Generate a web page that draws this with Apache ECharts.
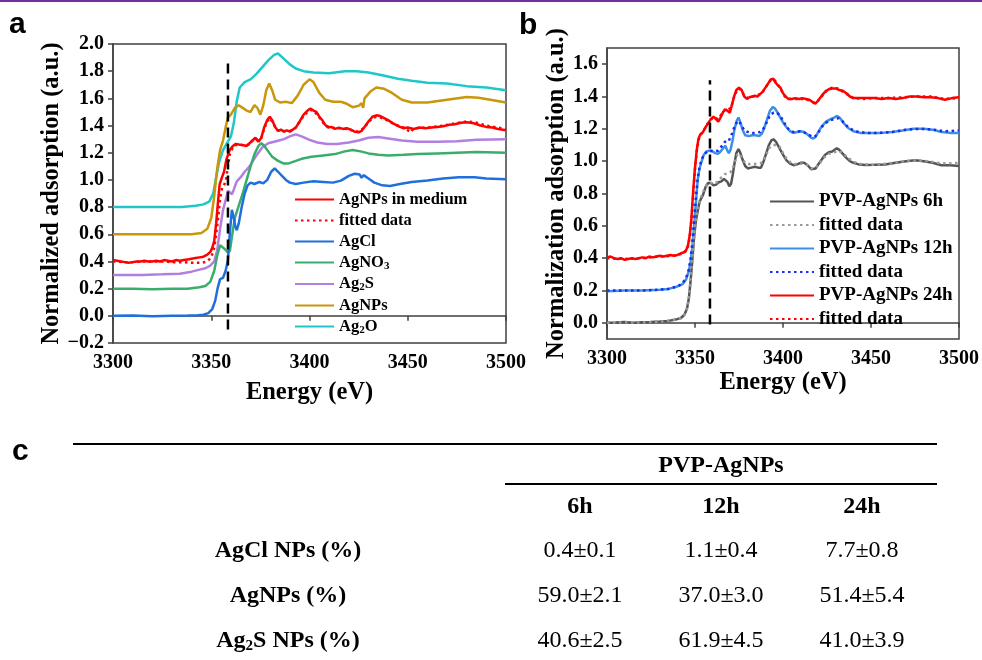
<!DOCTYPE html>
<html><head><meta charset="utf-8">
<script src="https://cdn.jsdelivr.net/npm/echarts@6/dist/echarts.min.js"></script>
<style>html,body{margin:0;padding:0;background:#fff}#c{width:982px;height:660px}</style>
</head><body><div id="c"></div>
<script>
// ---------------- Panel a data: [energy eV, normalized absorption] ----------------
const agCl = [[3300,0.00],[3310,0.002],[3320,-0.003],[3330,0.00],[3338,0.002],[3343,0.005],[3346,0.008],[3348.5,0.02],[3350.5,0.05],[3352,0.11],[3353.2,0.20],[3354.5,0.27],[3356,0.28],[3357.3,0.33],[3358.5,0.41],[3359.5,0.62],[3360.5,0.78],[3361.5,0.72],[3362.2,0.66],[3363,0.63],[3364,0.68],[3365.5,0.80],[3367,0.90],[3368.5,0.96],[3370,0.98],[3372,0.97],[3374.5,0.985],[3376.5,0.975],[3378.5,1.00],[3380.5,1.06],[3382.3,1.085],[3384,1.06],[3386,1.03],[3388,1.00],[3390,0.98],[3393,0.97],[3397,0.98],[3402,0.99],[3407,0.985],[3412,0.98],[3416,0.995],[3420,1.03],[3423,1.045],[3425.5,1.04],[3426.5,1.015],[3427.5,1.035],[3430,1.01],[3433,0.98],[3437,0.96],[3441,0.955],[3446,0.97],[3452,0.985],[3460,0.995],[3468,1.01],[3476,1.02],[3484,1.02],[3490,1.01],[3500,1.005]];
const agNO3 = [[3300,0.20],[3310,0.20],[3320,0.195],[3330,0.20],[3338,0.20],[3344,0.21],[3347,0.22],[3349.5,0.25],[3351.5,0.33],[3353,0.44],[3354.5,0.52],[3355.5,0.53],[3357,0.49],[3358.5,0.465],[3359.5,0.48],[3360.5,0.58],[3362,0.72],[3364,0.81],[3366,0.90],[3368,1.00],[3370,1.10],[3372,1.19],[3374,1.25],[3375.5,1.27],[3377,1.25],[3379,1.21],[3381,1.17],[3384,1.14],[3387,1.12],[3389,1.12],[3392,1.135],[3396,1.155],[3401,1.17],[3407,1.18],[3413,1.19],[3418,1.21],[3422,1.22],[3426,1.21],[3430,1.195],[3435,1.185],[3440,1.18],[3448,1.185],[3455,1.19],[3465,1.195],[3475,1.20],[3485,1.205],[3500,1.20]];
const ag2S = [[3300,0.30],[3315,0.30],[3325,0.305],[3334,0.31],[3340,0.325],[3344,0.34],[3347,0.35],[3349.5,0.37],[3351.5,0.40],[3353,0.48],[3354.5,0.64],[3356,0.78],[3357.5,0.86],[3358.5,0.92],[3359.5,0.91],[3360.5,0.895],[3361.5,0.93],[3363,0.99],[3365,1.02],[3367,1.06],[3369.5,1.10],[3373,1.18],[3376,1.24],[3379,1.27],[3383,1.285],[3387,1.30],[3390,1.32],[3393,1.335],[3396,1.32],[3400,1.295],[3404,1.275],[3409,1.265],[3414,1.265],[3420,1.275],[3425,1.29],[3430,1.31],[3435,1.315],[3440,1.305],[3447,1.29],[3455,1.28],[3465,1.28],[3475,1.285],[3485,1.295],[3500,1.30]];
const agNPs = [[3300,0.60],[3320,0.60],[3340,0.60],[3345,0.61],[3348,0.64],[3350,0.72],[3351.5,0.88],[3353,1.08],[3354.5,1.22],[3356,1.29],[3357.5,1.40],[3358.5,1.46],[3360,1.48],[3362,1.53],[3364,1.55],[3366,1.53],[3368,1.51],[3370,1.50],[3372,1.55],[3373.5,1.53],[3375,1.48],[3376.5,1.55],[3378,1.66],[3379.5,1.71],[3381,1.66],[3382.5,1.59],[3385,1.57],[3388,1.575],[3391,1.565],[3394,1.62],[3397,1.70],[3400,1.74],[3402,1.72],[3405,1.64],[3408,1.59],[3412,1.575],[3416,1.575],[3419,1.56],[3422,1.535],[3425,1.545],[3426.5,1.565],[3427.3,1.53],[3428,1.60],[3431,1.65],[3434,1.68],[3438,1.67],[3442,1.64],[3447,1.59],[3452,1.57],[3460,1.57],[3470,1.59],[3480,1.61],[3486,1.605],[3492,1.59],[3500,1.57]];
const ag2O = [[3300,0.80],[3320,0.80],[3335,0.80],[3342,0.81],[3346,0.82],[3349,0.84],[3351,0.90],[3352.5,1.02],[3354,1.13],[3356,1.22],[3358,1.27],[3360,1.32],[3361.5,1.42],[3363,1.58],[3364.5,1.68],[3367,1.72],[3370,1.74],[3373,1.78],[3376,1.83],[3379,1.88],[3382,1.92],[3384,1.93],[3387,1.89],[3390,1.85],[3393,1.82],[3397,1.80],[3402,1.79],[3410,1.785],[3418,1.80],[3424,1.80],[3430,1.79],[3437,1.77],[3445,1.745],[3452,1.73],[3460,1.715],[3470,1.71],[3480,1.69],[3490,1.68],[3500,1.66]];
const agMedium = [[3300,0.41],[3302,0.405],[3304,0.40],[3306,0.395],[3308,0.39],[3310,0.395],[3312,0.40],[3314,0.40],[3316,0.405],[3318,0.40],[3320,0.40],[3322,0.405],[3324,0.40],[3326,0.41],[3328,0.405],[3330,0.40],[3332,0.41],[3334,0.405],[3336,0.41],[3338,0.415],[3340,0.42],[3342,0.425],[3344,0.43],[3346,0.435],[3348,0.45],[3349.5,0.47],[3350.5,0.50],[3351.5,0.55],[3352.5,0.68],[3353.5,0.85],[3354.3,0.97],[3355.5,1.02],[3356.5,1.06],[3357.7,1.15],[3359.4,1.22],[3361,1.25],[3362.5,1.265],[3364,1.26],[3365,1.27],[3366.5,1.255],[3368,1.25],[3369.5,1.27],[3371,1.29],[3372.5,1.31],[3374,1.28],[3375.5,1.31],[3377,1.39],[3378.5,1.44],[3379.8,1.465],[3381,1.44],[3382.5,1.39],[3384,1.36],[3385.5,1.37],[3387,1.355],[3388.5,1.365],[3390,1.355],[3391.5,1.37],[3393,1.385],[3395,1.43],[3397,1.48],[3399,1.51],[3400.5,1.525],[3402,1.51],[3403.5,1.50],[3405,1.465],[3406.5,1.44],[3408,1.405],[3409.5,1.385],[3411,1.39],[3413,1.375],[3415,1.385],[3417,1.375],[3419,1.38],[3421,1.37],[3423,1.355],[3425,1.35],[3426.5,1.36],[3428,1.39],[3430,1.43],[3432,1.465],[3434,1.475],[3436,1.47],[3438,1.455],[3440,1.44],[3442,1.42],[3444,1.405],[3446,1.39],[3448,1.38],[3450,1.385],[3453,1.375],[3456,1.385],[3459,1.38],[3462,1.385],[3465,1.39],[3468,1.395],[3471,1.405],[3474,1.41],[3477,1.42],[3480,1.425],[3482,1.42],[3484,1.415],[3487,1.40],[3490,1.39],[3493,1.385],[3496,1.375],[3500,1.365]];
const agMediumFit = [[3300,0.40],[3305,0.395],[3310,0.395],[3315,0.40],[3320,0.40],[3325,0.40],[3330,0.395],[3335,0.395],[3340,0.39],[3345,0.39],[3348,0.40],[3350,0.43],[3351.5,0.50],[3352.5,0.60],[3353.5,0.72],[3354.5,0.86],[3355.5,0.94],[3356.5,0.96],[3357.5,1.00],[3358.5,1.10],[3359.5,1.19],[3361,1.24],[3363,1.26],[3365,1.26],[3367,1.25],[3369,1.26],[3371,1.29],[3372.5,1.30],[3374,1.29],[3375.5,1.31],[3377,1.38],[3378.5,1.43],[3379.8,1.455],[3381,1.43],[3382.5,1.39],[3384,1.365],[3387,1.36],[3390,1.36],[3393,1.385],[3395,1.43],[3397,1.47],[3399,1.50],[3400.5,1.515],[3402,1.505],[3404,1.48],[3406,1.44],[3408,1.40],[3411,1.385],[3415,1.38],[3419,1.375],[3423,1.36],[3425,1.355],[3428,1.385],[3430,1.425],[3432,1.455],[3434,1.465],[3436,1.46],[3440,1.435],[3444,1.405],[3448,1.385],[3451.5,1.35],[3453,1.38],[3460,1.385],[3468,1.40],[3474,1.415],[3480,1.43],[3484,1.425],[3490,1.40],[3496,1.385],[3500,1.375]];
const dashA = [[3358.5,-0.1],[3358.5,1.9]];

// ---------------- Panel b data ----------------
const pvp6h = [[3300,0.0],[3305,0.002],[3310,0.005],[3315,0.0],[3320,0.003],[3325,0.005],[3330,0.008],[3335,0.012],[3339,0.02],[3342,0.03],[3344,0.05],[3345.5,0.09],[3346.5,0.15],[3347.5,0.26],[3348.5,0.39],[3349.5,0.53],[3350.5,0.63],[3351.5,0.69],[3352.5,0.745],[3353.5,0.77],[3354.5,0.79],[3356,0.84],[3357.5,0.865],[3359,0.865],[3360.5,0.85],[3362,0.855],[3363.5,0.87],[3365,0.875],[3366.5,0.89],[3367.5,0.895],[3368.5,0.87],[3369.5,0.845],[3370.5,0.86],[3371.5,0.92],[3372.5,0.99],[3373.5,1.05],[3374.7,1.075],[3375.8,1.05],[3377,1.01],[3378.5,0.97],[3380,0.955],[3382,0.96],[3384,0.965],[3386,0.96],[3387.5,0.96],[3389,1.00],[3390.5,1.05],[3392,1.10],[3393.5,1.13],[3394.7,1.135],[3396,1.12],[3398,1.08],[3400,1.04],[3402,1.005],[3404,0.985],[3406,0.975],[3408,0.98],[3410,0.99],[3412,0.99],[3414,0.975],[3416,0.95],[3417,0.945],[3418.5,0.955],[3420,0.98],[3422,1.01],[3424,1.04],[3426,1.055],[3428,1.06],[3430.5,1.08],[3432,1.07],[3434,1.045],[3436,1.02],[3438,1.0],[3440,0.99],[3443,0.98],[3447,0.977],[3452,0.978],[3458,0.98],[3464,0.99],[3470,1.0],[3475,1.005],[3480,1.0],[3485,0.99],[3490,0.975],[3495,0.975],[3500,0.97]];
const pvp6hFit = [[3300,0.0],[3310,0.003],[3320,0.002],[3330,0.007],[3338,0.018],[3342,0.03],[3344,0.05],[3345.5,0.09],[3346.5,0.15],[3347.5,0.27],[3348.5,0.40],[3349.5,0.54],[3350.5,0.64],[3351.5,0.70],[3352.5,0.75],[3353.5,0.78],[3355,0.82],[3357,0.86],[3359,0.865],[3361,0.86],[3363,0.875],[3365,0.90],[3367,0.92],[3369,0.925],[3371,0.94],[3372.5,0.99],[3374,1.04],[3375.5,1.045],[3377,1.01],[3379,0.985],[3382,0.98],[3385,0.985],[3388,0.99],[3390,1.03],[3392,1.08],[3394,1.10],[3396,1.10],[3398,1.09],[3400,1.05],[3402,1.015],[3405,0.985],[3408,0.98],[3411,0.985],[3414,0.975],[3416,0.955],[3418,0.955],[3420,0.975],[3423,1.02],[3426,1.045],[3429,1.055],[3431.5,1.065],[3434,1.05],[3437,1.02],[3440,0.995],[3445,0.98],[3452,0.978],[3460,0.985],[3468,0.998],[3475,1.005],[3482,1.0],[3488,0.99],[3494,0.985],[3500,0.99]];
const pvp12h = [[3300,0.195],[3310,0.20],[3320,0.20],[3330,0.205],[3335,0.21],[3340,0.225],[3343,0.24],[3345,0.27],[3346.5,0.32],[3347.5,0.38],[3348.5,0.47],[3349.5,0.60],[3350.5,0.74],[3351.5,0.88],[3352.5,0.95],[3353.5,0.99],[3355,1.04],[3356.5,1.06],[3358,1.065],[3360,1.06],[3361.5,1.05],[3363,1.045],[3364.5,1.06],[3366,1.08],[3367.2,1.095],[3368.2,1.07],[3369.2,1.05],[3370.2,1.07],[3371.2,1.12],[3372.5,1.20],[3373.7,1.25],[3374.7,1.27],[3375.8,1.24],[3377,1.195],[3378.5,1.16],[3380.5,1.155],[3382.5,1.16],[3384.5,1.16],[3386.5,1.155],[3388,1.17],[3389.5,1.21],[3391,1.26],[3392.5,1.31],[3394.2,1.335],[3395.5,1.325],[3397.5,1.29],[3400,1.24],[3402,1.21],[3404,1.185],[3406,1.175],[3408,1.18],[3410,1.185],[3412,1.18],[3414,1.165],[3416,1.145],[3417.2,1.14],[3418.5,1.15],[3420,1.18],[3422,1.215],[3424.5,1.245],[3427,1.26],[3429,1.27],[3430.8,1.28],[3432.5,1.265],[3434.5,1.235],[3437,1.205],[3440,1.185],[3444,1.175],[3450,1.175],[3456,1.175],[3462,1.18],[3468,1.19],[3474,1.20],[3480,1.20],[3485,1.195],[3490,1.18],[3495,1.175],[3500,1.175]];
const pvp12hFit = [[3300,0.20],[3310,0.20],[3320,0.20],[3330,0.205],[3335,0.21],[3340,0.225],[3343,0.245],[3345,0.28],[3346.5,0.33],[3347.5,0.40],[3348.5,0.50],[3349.5,0.63],[3350.5,0.77],[3351.5,0.89],[3352.5,0.96],[3353.5,1.0],[3355,1.04],[3357,1.06],[3359,1.065],[3361,1.06],[3363,1.065],[3365,1.09],[3367,1.12],[3369,1.12],[3371,1.17],[3373,1.23],[3374.7,1.25],[3376,1.23],[3378,1.19],[3381,1.175],[3384,1.175],[3387,1.18],[3389.5,1.21],[3391.5,1.26],[3393,1.29],[3394.8,1.30],[3396.5,1.30],[3398.5,1.28],[3400.5,1.24],[3403,1.20],[3406,1.18],[3410,1.185],[3414,1.17],[3416.5,1.15],[3418.5,1.155],[3420.5,1.185],[3423,1.225],[3426,1.25],[3429,1.26],[3431.5,1.265],[3434,1.245],[3437,1.21],[3441,1.185],[3447,1.175],[3455,1.175],[3462,1.18],[3470,1.195],[3478,1.20],[3485,1.195],[3492,1.185],[3500,1.19]];
const pvp24h = [[3300,0.405],[3302,0.41],[3304,0.40],[3306,0.395],[3308,0.40],[3310,0.39],[3312,0.395],[3314,0.40],[3316,0.395],[3318,0.40],[3320,0.405],[3322,0.40],[3324,0.41],[3326,0.405],[3328,0.41],[3330,0.415],[3332,0.41],[3334,0.415],[3336,0.42],[3338,0.415],[3340,0.42],[3342,0.43],[3343.5,0.435],[3345,0.45],[3346,0.48],[3347,0.54],[3348,0.65],[3349,0.82],[3350,0.96],[3351,1.07],[3352,1.14],[3353,1.165],[3354.5,1.18],[3356,1.21],[3357.5,1.235],[3359,1.26],[3360.5,1.275],[3362,1.26],[3363.2,1.245],[3364.5,1.27],[3366,1.305],[3367.5,1.32],[3368.5,1.31],[3369.8,1.30],[3371,1.35],[3372.2,1.40],[3373.5,1.44],[3375,1.455],[3376.5,1.44],[3378,1.40],[3379.5,1.385],[3381,1.395],[3382.5,1.40],[3384,1.405],[3385.5,1.40],[3387,1.415],[3388.5,1.43],[3390,1.455],[3391.5,1.48],[3393,1.505],[3394.5,1.51],[3395.5,1.49],[3397,1.47],[3398.5,1.455],[3400,1.42],[3401.5,1.40],[3403,1.385],[3405,1.385],[3407,1.39],[3409,1.385],[3411,1.39],[3413,1.385],[3415,1.38],[3417,1.365],[3418.3,1.355],[3420,1.375],[3422,1.405],[3424,1.43],[3426,1.445],[3428,1.45],[3430,1.45],[3432,1.44],[3434,1.435],[3436,1.42],[3438,1.40],[3440,1.39],[3444,1.39],[3448,1.39],[3452,1.39],[3456,1.385],[3460,1.39],[3464,1.385],[3468,1.39],[3472,1.40],[3476,1.40],[3480,1.395],[3484,1.395],[3488,1.39],[3492,1.38],[3496,1.39],[3500,1.395]];
const pvp24hFit = [[3300,0.40],[3310,0.395],[3320,0.40],[3330,0.41],[3338,0.415],[3342,0.425],[3344.5,0.44],[3346,0.47],[3347,0.53],[3348,0.64],[3349,0.80],[3350,0.95],[3351,1.06],[3352,1.13],[3353,1.16],[3355,1.19],[3357,1.23],[3359,1.26],[3361,1.27],[3363,1.26],[3365,1.29],[3367,1.32],[3369,1.32],[3370.5,1.33],[3372,1.39],[3373.5,1.43],[3375,1.45],[3376.5,1.435],[3378,1.405],[3380,1.39],[3383,1.40],[3386,1.41],[3388.5,1.43],[3391,1.47],[3393,1.50],[3395,1.505],[3397,1.475],[3399,1.44],[3401,1.40],[3404,1.385],[3408,1.385],[3412,1.385],[3415,1.375],[3418,1.36],[3420,1.375],[3422,1.40],[3425,1.44],[3428,1.455],[3431,1.45],[3434,1.43],[3437,1.41],[3440,1.39],[3446,1.385],[3452,1.39],[3460,1.39],[3468,1.395],[3476,1.40],[3484,1.40],[3492,1.385],[3500,1.39]];
const dashB = [[3358.5,-0.01],[3358.5,1.5]];
const yTicksB = [0, 0.2, 0.4, 0.6, 0.8, 1.0, 1.2, 1.4, 1.6];

// ---------------- Table c data ----------------
const tableGroup = 'PVP-AgNPs';
const tableCols = ['6h', '12h', '24h'];
const tableRows = ['AgCl NPs (%)', 'AgNPs (%)', 'Ag2S NPs (%)'];
const tableMeans = [[0.4, 1.1, 7.7], [59.0, 37.0, 51.4], [40.6, 61.9, 41.0]];
const tableSDs = [[0.1, 0.4, 0.8], [2.1, 3.0, 5.4], [2.5, 4.5, 3.9]];

// ---------------- styling ----------------
const SERIF = "'Liberation Serif','Times New Roman',serif";
const SANS = "'Liberation Sans',Arial,sans-serif";
const AX = '#404040';
const C = {red:'#ff0000', blue:'#1f6fdc', green:'#38ad6c', purple:'#b27fe0', gold:'#c9960c', cyan:'#1ec8c8',
           gray:'#555555', grayFit:'#9a9a9a', blue12:'#3a8fe6', blueFit:'#1a2cf0'};

function sub(txt){
  return txt.replace(/^Ag2/, '{n|Ag}{s|2}{n|').replace(/NO3$/, 'NO}{s|3}{n|');
}
function richName(name){
  let r = sub(name);
  if (r === name) return '{n|' + name + '}';
  if (!r.startsWith('{')) r = '{n|' + r;
  return r + '}';
}

function axisLabelStyle(size){ return {color:'#000', fontFamily:SERIF, fontWeight:'bold', fontSize:size}; }
function line(name, data, color, xi, dotted, width){
  return {name, type:'line', xAxisIndex:xi, yAxisIndex:xi, data, showSymbol:false, symbol:'none',
    lineStyle:{color, width: width || 2.5, type: dotted ? [2.5,3.5] : 'solid'}, itemStyle:{color},
    silent:true, animation:false, z: dotted ? 3 : 2};
}

const legendAData = ['AgNPs in medium','fitted data','AgCl','AgNO3','Ag2S','AgNPs','Ag2O'];
const legendBData = ['PVP-AgNPs 6h','fitted data (6h)','PVP-AgNPs 12h','fitted data (12h)','PVP-AgNPs 24h','fitted data (24h)'];

function legendRich(size){
  return {
    n:{fontFamily:SERIF, fontWeight:'bold', fontSize:size, color:'#000'},
    s:{fontFamily:SERIF, fontWeight:'bold', fontSize:Math.round(size*0.65), color:'#000', padding:[7,0,0,0]}
  };
}

const graphics = [];
graphics.push({type:'rect', shape:{x:0,y:0,width:982,height:2}, style:{fill:'#7030a0'}});
graphics.push({type:'text', left:9, top:10, style:{text:'a', font:'bold 30px ' + SANS, fill:'#000'}});
graphics.push({type:'text', left:519, top:11, style:{text:'b', font:'bold 30px ' + SANS, fill:'#000'}});
graphics.push({type:'text', left:12, top:437, style:{text:'c', font:'bold 30px ' + SANS, fill:'#000'}});
graphics.push({type:'line', shape:{x1:73,y1:444,x2:937,y2:444}, style:{stroke:'#000', lineWidth:2}});
graphics.push({type:'line', shape:{x1:505,y1:484,x2:937,y2:484}, style:{stroke:'#000', lineWidth:2}});
const colX = [580, 721, 862];
const rowY = [551, 596, 641];
const tRich = {
  n:{fontFamily:SERIF, fontWeight:'bold', fontSize:24, fill:'#000'},
  s:{fontFamily:SERIF, fontWeight:'bold', fontSize:15, fill:'#000', padding:[10,0,0,0]}
};
graphics.push({type:'text', x:721, y:466, style:{text:tableGroup, font:'bold 24px ' + SERIF, fill:'#000', align:'center', verticalAlign:'middle'}});
tableCols.forEach((c,i)=>graphics.push({type:'text', x:colX[i], y:507, style:{text:c, font:'bold 24px ' + SERIF, fill:'#000', align:'center', verticalAlign:'middle'}}));
tableRows.forEach((r,j)=>{
  graphics.push({type:'text', x:288, y:rowY[j], style:{text:richName(r), rich:tRich, align:'center', verticalAlign:'middle'}});
  tableCols.forEach((c,i)=>graphics.push({type:'text', x:colX[i], y:rowY[j], style:{
    text: tableMeans[j][i].toFixed(1) + '\u00b1' + tableSDs[j][i].toFixed(1),
    font:'24px ' + SERIF, fill:'#000', align:'center', verticalAlign:'middle'}}));
});

const nameStyle = {color:'#000', fontFamily:SERIF, fontWeight:'bold', fontSize:24.5};
const option = {
  animation:false,
  backgroundColor:'#fff',
  textStyle:{fontFamily:SERIF},
  grid:[
    {left:113, top:44, width:393, height:299, show:true, borderColor:AX, borderWidth:1.5, backgroundColor:'transparent'},
    {left:607, top:48, width:355, height:291, show:true, borderColor:AX, borderWidth:1.5, backgroundColor:'transparent'}
  ],
  xAxis:[
    {gridIndex:0, type:'value', min:3300, max:3500, interval:50,
     axisLine:{show:true, lineStyle:{color:AX, width:1.5}}, axisTick:{show:true, inside:false, length:5, lineStyle:{color:AX, width:1.5}},
     splitLine:{show:false}, axisLabel:Object.assign({margin:10, formatter:v=>String(v)}, axisLabelStyle(20)),
     name:'Energy (eV)', nameLocation:'middle', nameGap:37, nameTextStyle:nameStyle},
    {gridIndex:1, type:'value', min:3300, max:3500, interval:50,
     axisLine:{show:true, lineStyle:{color:AX, width:1.5}}, axisTick:{show:true, inside:false, length:5, lineStyle:{color:AX, width:1.5}},
     splitLine:{show:false}, axisLabel:Object.assign({margin:10, formatter:v=>String(v)}, axisLabelStyle(20)),
     name:'Energy (eV)', nameLocation:'middle', nameGap:31, nameTextStyle:nameStyle}
  ],
  yAxis:[
    {gridIndex:0, type:'value', min:-0.2, max:2.0, interval:0.2,
     axisLine:{show:true, lineStyle:{color:AX, width:1.5}}, axisTick:{show:true, inside:false, length:5, lineStyle:{color:AX, width:1.5}},
     splitLine:{show:false},
     axisLabel:Object.assign({margin:9, formatter:v=>v.toFixed(1).replace('-', '\u2212')}, axisLabelStyle(20)),
     name:'Normalized adsorption (a.u.)', nameLocation:'middle', nameGap:46, nameRotate:90, nameTextStyle:nameStyle},
    {gridIndex:1, type:'value', min:-0.1, max:1.7,
     axisLine:{show:true, lineStyle:{color:AX, width:1.5}},
     axisTick:{show:true, inside:false, length:5, lineStyle:{color:AX, width:1.5}, customValues:yTicksB},
     splitLine:{show:false},
     axisLabel:Object.assign({margin:9, customValues:yTicksB, formatter:v=>v.toFixed(1)}, axisLabelStyle(20)),
     name:'Normalization adsorption (a.u.)', nameLocation:'middle', nameGap:35, nameRotate:90, nameTextStyle:nameStyle}
  ],
  legend:[
    {data:legendAData, orient:'vertical', left:289, top:186, itemWidth:39, itemHeight:14, itemGap:4,
     formatter:n=>richName(n), textStyle:{rich:legendRich(16.5)}, selectedMode:false,
     itemStyle:{opacity:0}},
    {data:legendBData, orient:'vertical', left:764, top:187, itemWidth:44, itemHeight:14, itemGap:4.5,
     formatter:n=>richName(n.startsWith('fitted') ? 'fitted data' : n), textStyle:{rich:legendRich(19)}, selectedMode:false,
     itemStyle:{opacity:0}}
  ],
  series:[
    line('Ag2O', ag2O, C.cyan, 0),
    line('AgNPs', agNPs, C.gold, 0),
    line('Ag2S', ag2S, C.purple, 0),
    line('AgNO3', agNO3, C.green, 0),
    line('AgCl', agCl, C.blue, 0),
    line('AgNPs in medium', agMedium, C.red, 0),
    line('fitted data', agMediumFit, C.red, 0, true),
    {type:'line', xAxisIndex:0, yAxisIndex:0, data:dashA, symbol:'none', silent:true,
     lineStyle:{color:'#000', width:2.5, type:[10,6]}, z:4},
    line('PVP-AgNPs 6h', pvp6h, C.gray, 1),
    line('fitted data (6h)', pvp6hFit, C.grayFit, 1, true),
    line('PVP-AgNPs 12h', pvp12h, C.blue12, 1),
    line('fitted data (12h)', pvp12hFit, C.blueFit, 1, true),
    line('PVP-AgNPs 24h', pvp24h, C.red, 1),
    line('fitted data (24h)', pvp24hFit, C.red, 1, true),
    {type:'line', xAxisIndex:1, yAxisIndex:1, data:dashB, symbol:'none', silent:true,
     lineStyle:{color:'#000', width:2.5, type:[10,6]}, z:4}
  ],
  graphic: graphics
};

const chart = echarts.init(document.getElementById('c'), null, {renderer:'canvas'});
chart.setOption(option);
</script></body></html>
